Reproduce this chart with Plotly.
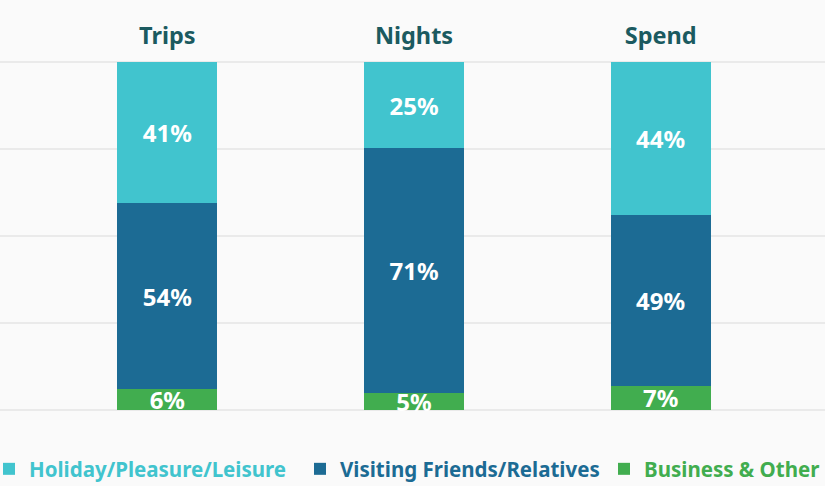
import plotly.graph_objects as go

categories = ["Trips", "Nights", "Spend"]
series_names = ["Holiday/Pleasure/Leisure", "Visiting Friends/Relatives", "Business & Other"]
holiday = [41, 25, 44]
vfr = [54, 71, 49]
business = [6, 5, 7]

colors = {"Holiday/Pleasure/Leisure": "#41C4CE",
          "Visiting Friends/Relatives": "#1C6B94",
          "Business & Other": "#41AD4F"}

FONT = "Noto Sans"
W, H = 825, 486
L, R, T, B = 0, 0, 61, 75
PW, PH = W - L - R, H - T - B
STEP = 740 / 3  # pixel distance between category centres
X0 = 44 / STEP  # left gap before first category slot (in category units)
X1 = 41 / STEP

fig = go.Figure()
# stack bottom-up: business, vfr, holiday; each series has its own legend box
stack = [("Business & Other", business, "legend3"),
         ("Visiting Friends/Relatives", vfr, "legend2"),
         ("Holiday/Pleasure/Leisure", holiday, "legend")]
for name, vals, lg in stack:
    fig.add_trace(go.Bar(
        x=categories, y=vals, name=name, legend=lg,
        marker=dict(color=colors[name], line=dict(width=0)),
        text=[f"{v}%" for v in vals], texttemplate="%{text}",
        textposition="inside", insidetextanchor="middle", textangle=0,
        constraintext="none",
        textfont=dict(family=FONT, size=24, color="white", weight="bold"),
        width=0.405, hoverinfo="skip",
    ))


def legend_at(text_px, name):
    # legend text starts ~40px right of the legend's left edge
    return dict(orientation="h", x=(text_px - 40 - L) / PW, xanchor="left",
                y=(T + PH - 469) / PH, yanchor="middle",
                font=dict(family=FONT, size=20.5, weight="bold", color=colors[name]),
                itemclick=False, bgcolor="rgba(0,0,0,0)")


fig.update_layout(
    barmode="stack", barnorm="percent",
    width=W, height=H,
    margin=dict(l=L, r=R, t=T, b=B, autoexpand=False),
    paper_bgcolor="#FAFAFA", plot_bgcolor="#FAFAFA",
    font=dict(family=FONT),
    showlegend=True,
    legend=legend_at(29, "Holiday/Pleasure/Leisure"),
    legend2=legend_at(340, "Visiting Friends/Relatives"),
    legend3=legend_at(644, "Business & Other"),
    xaxis=dict(side="top", showgrid=False, zeroline=False, showline=False,
               range=[-0.5 - X0, 2.5 + X1],
               ticks="outside", ticklen=7, tickcolor="rgba(0,0,0,0)",
               tickfont=dict(family=FONT, size=23.5, color="#1B5A60", weight="bold"),
               fixedrange=True, automargin=False),
    yaxis=dict(range=[-0.3, 100.3], tickvals=[0, 25, 50, 75, 100], showticklabels=False,
               showgrid=True, gridcolor="#EAEAEA", gridwidth=2, zeroline=False,
               showline=False, fixedrange=True, automargin=False),
)
fig.write_html("out.html", config={"displayModeBar": False},
               post_script="document.body.style.margin='0';"
                           "document.body.style.background='#FAFAFA';")
